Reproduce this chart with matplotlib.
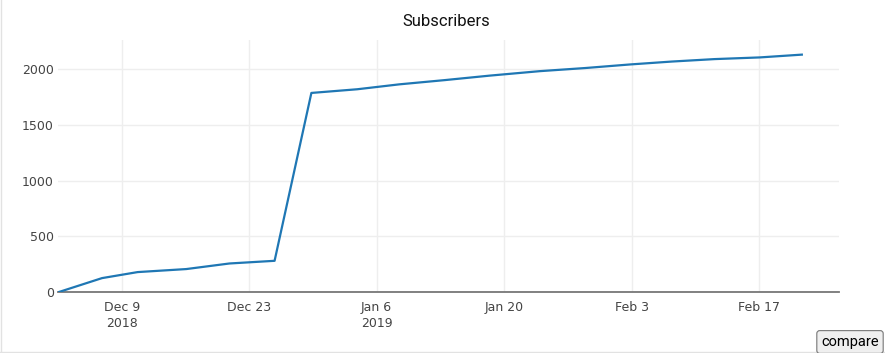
import pandas as pd
import matplotlib.pyplot as plt
from matplotlib.lines import Line2D

# Subscriber counts
dates = ['2018-12-02 00:00', '2018-12-06 20:00', '2018-12-10 18:00', '2018-12-16 02:00',
         '2018-12-20 20:00', '2018-12-25 19:00', '2018-12-29 20:00', '2019-01-03 21:00',
         '2019-01-08 12:00', '2019-01-13 12:00', '2019-01-18 10:00', '2019-01-23 22:00',
         '2019-01-28 22:00', '2019-02-02 20:00', '2019-02-07 10:00', '2019-02-12 03:00',
         '2019-02-17 02:00', '2019-02-21 17:00']
subscribers = [0, 127, 181, 208, 258, 282, 1785, 1818, 1862, 1900, 1940, 1980,
               2008, 2040, 2066, 2088, 2103, 2128]

tick_dates = ['2018-12-09', '2018-12-23', '2019-01-06', '2019-01-20', '2019-02-03', '2019-02-17']
tick_labels = ['Dec 9\n2018', 'Dec 23', 'Jan 6\n2019', 'Jan 20', 'Feb 3', 'Feb 17']
y_ticks = [0, 500, 1000, 1500, 2000]

df = pd.DataFrame({'date': pd.to_datetime(dates), 'subscribers': subscribers})

fig = plt.figure(figsize=(8.85, 3.53), dpi=100)
ax = fig.add_axes([58 / 885, 1 - 292.3 / 353, (839 - 58) / 885, (292.3 - 40) / 353])

ax.plot(df['date'], df['subscribers'], color='#1f77b4', lw=1.6, solid_joinstyle='round', zorder=3)

ax.set_xlim(pd.Timestamp('2018-12-02'), pd.Timestamp('2019-02-25 19:00'))
ax.set_ylim(0, 2259)

ax.set_xticks(pd.to_datetime(tick_dates))
ax.set_xticklabels(tick_labels)
ax.set_yticks(y_ticks)
ax.set_yticklabels([str(v) for v in y_ticks])
ax.tick_params(length=0, labelsize=9, colors='#444444', pad=6)
ax.tick_params(axis='y', pad=3)
ax.grid(True, color='#eeeeee', lw=1)
ax.set_axisbelow(True)
for side in ['top', 'right', 'left']:
    ax.spines[side].set_visible(False)
ax.spines['bottom'].set_color('#777777')
ax.spines['bottom'].set_linewidth(1.3)

for lab in ax.get_xticklabels():
    lab.set_linespacing(1.35)

fig.text(0.504, 1 - 22 / 353, 'Subscribers', ha='center', va='center',
         fontsize=12, family='Roboto', color='#111111')

# page border (left and bottom) and the compare button
fig.add_artist(Line2D([0.5 / 885, 0.5 / 885], [0, 1], color='#e2e2e2', lw=1))
fig.add_artist(Line2D([0, 1], [1.5 / 353, 1.5 / 353], color='#e2e2e2', lw=1))
fig.text(850 / 885, 1 - 342 / 353, 'compare', ha='center', va='center', fontsize=10.5,
         family='Roboto', color='#000000',
         bbox=dict(boxstyle='round,pad=0.3,rounding_size=0.2', fc='#efefef', ec='#767676', lw=0.8))

fig.savefig('out.png', dpi=100)
